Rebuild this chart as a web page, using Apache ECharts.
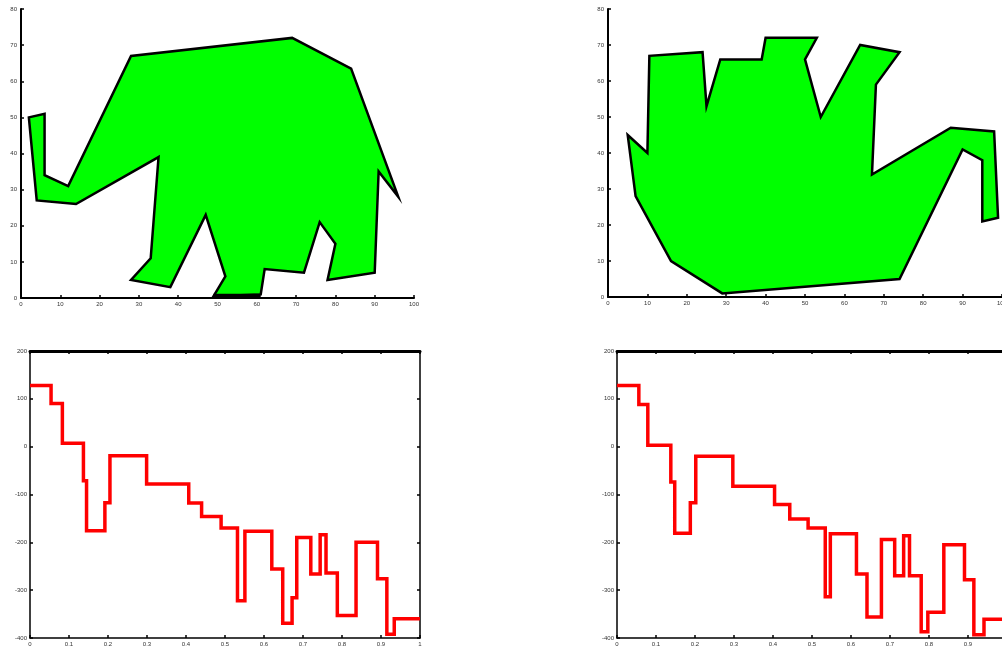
<!DOCTYPE html>
<html>
<head>
<meta charset="utf-8">
<script src="https://cdn.jsdelivr.net/npm/echarts@6/dist/echarts.min.js"></script>
<style>
html,body{margin:0;padding:0;background:#fff;}
#c{width:1002px;height:654px;}
</style>
</head>
<body>
<div id="c"></div>
<script>
// ---- data ----
var elephantPts = [
  [2,50],[6,51],[6,34],[12,31],[28,67],[69,72],[84,63.5],[96,28],[91,35],[90,7],
  [78,5],[80,15],[76,21],[72,7],[62,8],[61,1],[49,0.5],[52,6],[47,23],[38,3],
  [28,5],[33,11],[35,39],[14,26],[4,27]
];
var elephantSole = [[49,0.6],[61,0.6]];
var teapotPts = [
  [5,45],[10,40],[10.5,67],[24,68],[25,53],[28.5,66],[39,66],[40,72],[53,72],[50,66],
  [54,50],[64,70],[74,68],[68,59],[67,34],[87,47],[98,46],[99,22],[95,21],[95,38],
  [90,41],[74,5],[29,1],[16,10],[7,28]
];
var leftStepX = [0,0.054,0.083,0.137,0.145,0.192,0.205,0.299,0.407,0.44,0.49,0.532,0.551,0.62,0.648,0.672,0.684,0.72,0.744,0.759,0.788,0.836,0.891,0.915,0.934,1];
var leftStepY = [128,90,7,-71,-176,-117,-19,-78,-118,-146,-170,-322,-177,-256,-369,-316,-190,-266,-184,-264,-353,-200,-276,-392,-360,-360];
var rightStepX = [0,0.056,0.079,0.138,0.148,0.188,0.202,0.297,0.404,0.443,0.49,0.534,0.547,0.614,0.641,0.678,0.712,0.735,0.75,0.78,0.797,0.838,0.891,0.915,0.941,1];
var rightStepY = [128,88,3,-74,-181,-117,-20,-83,-121,-151,-170,-314,-182,-266,-356,-194,-270,-186,-270,-387,-346,-205,-278,-393,-361,-361];
var shapeXTicks = [0,10,20,30,40,50,60,70,80,90,100];
var shapeYTicks = [0,10,20,30,40,50,60,70,80];
var stepXTicks = [0,0.1,0.2,0.3,0.4,0.5,0.6,0.7,0.8,0.9,1];
var stepYTicks = [-400,-300,-200,-100,0,100,200];

// ---- helpers ----
function zip(xs, ys){ return xs.map(function(x,i){ return [x, ys[i]]; }); }
var lbl = {fontSize:6, color:'#333', fontFamily:'Liberation Sans, Arial, sans-serif'};
function axis(type, gi, opts){
  var ticks = opts.ticks;
  return {
    type:'value', gridIndex:gi, min:ticks[0], max:ticks[ticks.length-1],
    interval: ticks[1]-ticks[0],
    position: opts.position,
    axisLine:{show:true, onZero:false, lineStyle:{color:'#000', width:opts.lw||2}},
    axisTick:{show:true, inside:true, length:3, lineStyle:{color:'#000', width:1.5}},
    splitLine:{show:false},
    axisLabel: opts.noLabel ? {show:false} : Object.assign({margin:opts.margin||3, hideOverlap:false, formatter:function(v){ return String(+v.toFixed(2)); }}, lbl)
  };
}
function polySeries(pts, xi, yi){
  return {
    type:'custom', xAxisIndex:xi, yAxisIndex:yi, data:pts, clip:false,
    renderItem:function(params, api){
      if (params.dataIndexInside !== 0) return null;
      var p = pts.map(function(d){ return api.coord(d); });
      return {type:'polygon', shape:{points:p},
        style:{fill:'#00ff00', stroke:'#000', lineWidth:2.5, lineJoin:'miter'}};
    }
  };
}
function stepSeries(xs, ys, xi, yi){
  return {type:'line', step:'end', xAxisIndex:xi, yAxisIndex:yi, data:zip(xs, ys),
    showSymbol:false, symbol:'none', animation:false,
    lineStyle:{color:'#ff0000', width:3.5, join:'miter'}};
}

var chart = echarts.init(document.getElementById('c'));
chart.setOption({
  animation:false,
  backgroundColor:'#fff',
  grid:[
    {left:21, right:588, top:9, bottom:356, outerBoundsMode:'none', containLabel:false},
    {left:608, right:0, top:9, bottom:357, outerBoundsMode:'none', containLabel:false},
    {left:30, right:582, top:351, bottom:16, outerBoundsMode:'none', containLabel:false},
    {left:617, right:-5, top:351, bottom:16, outerBoundsMode:'none', containLabel:false}
  ],
  xAxis:[
    axis('x',0,{ticks:shapeXTicks, position:'bottom'}),
    axis('x',1,{ticks:shapeXTicks, position:'bottom'}),
    axis('x',2,{ticks:stepXTicks, position:'bottom', lw:1.5}),
    axis('x',2,{ticks:stepXTicks, position:'top', lw:3, noLabel:true}),
    axis('x',3,{ticks:stepXTicks, position:'bottom', lw:1.5}),
    axis('x',3,{ticks:stepXTicks, position:'top', lw:3, noLabel:true})
  ],
  yAxis:[
    axis('y',0,{ticks:shapeYTicks, position:'left', margin:4}),
    axis('y',1,{ticks:shapeYTicks, position:'left', margin:4}),
    axis('y',2,{ticks:stepYTicks, position:'left', lw:1.5}),
    axis('y',2,{ticks:stepYTicks, position:'right', lw:1.5, noLabel:true}),
    axis('y',3,{ticks:stepYTicks, position:'left', lw:1.5}),
    axis('y',3,{ticks:stepYTicks, position:'right', lw:1.5, noLabel:true})
  ],
  series:[
    polySeries(elephantPts, 0, 0),
    {type:'line', xAxisIndex:0, yAxisIndex:0, data:elephantSole, showSymbol:false, symbol:'none',
      lineStyle:{color:'#000', width:4, cap:'butt'}},
    polySeries(teapotPts, 1, 1),
    stepSeries(leftStepX, leftStepY, 2, 2),
    stepSeries(rightStepX, rightStepY, 4, 4)
  ]
});
</script>
</body>
</html>
